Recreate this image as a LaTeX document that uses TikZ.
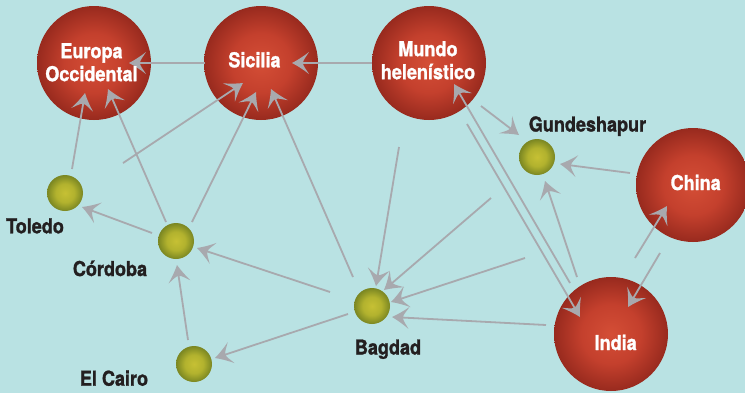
\documentclass[tikz,border=0pt]{standalone}
\usepackage{fontspec}
\newfontfamily\labfont[FakeStretch=0.88,FakeBold=1.3]{TeX Gyre Heros}
\usetikzlibrary{arrows.meta}
\definecolor{bgc}{RGB}{185,226,227}
\definecolor{arrc}{RGB}{168,169,174}
\definecolor{redin}{RGB}{212,78,54}
\definecolor{redmid}{RGB}{196,64,45}
\definecolor{redout}{RGB}{152,42,30}
\definecolor{olin}{RGB}{198,192,52}
\definecolor{olmid}{RGB}{178,178,46}
\definecolor{olout}{RGB}{122,134,34}
\definecolor{txtd}{RGB}{35,31,32}
\pgfdeclareradialshading{redball}{\pgfpoint{0bp}{0bp}}{color(0bp)=(redin); color(13bp)=(redmid); color(25bp)=(redout); color(50bp)=(redout)}
\pgfdeclareradialshading{oliveball}{\pgfpoint{0bp}{0bp}}{color(0bp)=(olin); color(13bp)=(olmid); color(25bp)=(olout); color(50bp)=(olout)}
\pgfdeclarearrow{
  name = Barb,
  parameters = {\the\pgfarrowlength,\the\pgfarrowwidth},
  setup code = {
    \pgfarrowssettipend{0pt}
    \pgfarrowssetlineend{-0.6\pgfarrowlength}
    \pgfarrowssetbackend{-\pgfarrowlength}
    \pgfarrowssavethe\pgfarrowlength
    \pgfarrowssavethe\pgfarrowwidth
  },
  drawing code = {
    \pgfpathmoveto{\pgfqpoint{0pt}{0pt}}
    \pgfpathcurveto{\pgfpoint{-0.33\pgfarrowlength}{0.13\pgfarrowwidth}}{\pgfpoint{-0.67\pgfarrowlength}{0.3\pgfarrowwidth}}{\pgfpoint{-\pgfarrowlength}{0.5\pgfarrowwidth}}
    \pgfpathcurveto{\pgfpoint{-0.85\pgfarrowlength}{0.3\pgfarrowwidth}}{\pgfpoint{-0.66\pgfarrowlength}{0.16\pgfarrowwidth}}{\pgfpoint{-0.64\pgfarrowlength}{0pt}}
    \pgfpathcurveto{\pgfpoint{-0.66\pgfarrowlength}{-0.16\pgfarrowwidth}}{\pgfpoint{-0.85\pgfarrowlength}{-0.3\pgfarrowwidth}}{\pgfpoint{-\pgfarrowlength}{-0.5\pgfarrowwidth}}
    \pgfpathcurveto{\pgfpoint{-0.67\pgfarrowlength}{-0.3\pgfarrowwidth}}{\pgfpoint{-0.33\pgfarrowlength}{-0.13\pgfarrowwidth}}{\pgfqpoint{0pt}{0pt}}
    \pgfpathclose
    \pgfusepathqfill
  },
  defaults = {length=17pt, width=22pt}
}
\tikzset{
  big/.style={circle, minimum size=114pt, inner sep=0pt, shade, shading=redball},
  small/.style={circle, minimum size=36pt, inner sep=0pt, shade, shading=oliveball},
  arr/.style={draw=arrc, line width=1.8pt, -{Barb}},
  wlab/.style={font=\labfont\bfseries\fontsize{20.5}{23}\selectfont, text=white, inner sep=0pt, align=center},
  dlab/.style={font=\labfont\bfseries\fontsize{20.5}{23}\selectfont, text=txtd, inner sep=0pt, align=center}
}
\begin{document}
\begin{tikzpicture}[x=1pt,y=-1pt]
\useasboundingbox (0,0) rectangle (745,392);
\fill[bgc] (-5,-5) rectangle (750,397);
% big circles
\node[big] (E) at (94,63) {};
\node[big] (S) at (261,63) {};
\node[big] (M) at (429,63) {};
\node[big] (C) at (693,185) {};
\node[big] (I) at (611,334) {};
% small circles
\node[small] (T) at (65,193) {};
\node[small] (Co) at (176,241) {};
\node[small] (Ca) at (194,364) {};
\node[small] (B) at (372,306) {};
\node[small] (G) at (537,157) {};
% free ends
\coordinate (f5) at (123,163);
\coordinate (f12) at (399,147);
\coordinate (f14) at (525,258);
% connectors
\draw[arr] ([shift={(-56,0)}]S.center) -- ([shift={(35,0)}]E.center);
\draw[arr] ([shift={(-57,0)}]M.center) -- ([shift={(31,0)}]S.center);
\draw[arr] ([shift={(7,-24)}]T.center) -- ([shift={(-9,30)}]E.center);
\draw[arr] ([shift={(-10,-19)}]Co.center) -- ([shift={(14,26)}]E.center);
\draw[arr] (f5) -- ([shift={(-18,20)}]S.center);
\draw[arr] ([shift={(16,-19)}]Co.center) -- ([shift={(-5,29)}]S.center);
\draw[arr] ([shift={(-19,-29)}]B.center) -- ([shift={(10,26)}]S.center);
\draw[arr] ([shift={(-24,-8)}]Co.center) -- ([shift={(17,14)}]T.center);
\draw[arr] ([shift={(-42,-14)}]B.center) -- ([shift={(21,7)}]Co.center);
\draw[arr] ([shift={(-6,-24)}]Ca.center) -- ([shift={(1,24)}]Co.center);
\draw[arr] ([shift={(-24,8)}]B.center) -- ([shift={(21,-6)}]Ca.center);
\draw[arr] (f12) -- ([shift={(4,-20)}]B.center);
\draw[arr] ([shift={(-46,41)}]G.center) -- ([shift={(12,-16)}]B.center);
\draw[arr] (f14) -- ([shift={(19,-4)}]B.center);
\draw[arr] ([shift={(-65,-9)}]I.center) -- ([shift={(20,11)}]B.center);
\draw[arr] ([shift={(-41,-51)}]I.center) -- ([shift={(25,21)}]M.center);
\draw[arr] ([shift={(38,61)}]M.center) -- ([shift={(-31,-17)}]I.center);
\draw[arr] ([shift={(52,43)}]M.center) -- ([shift={(-18,-22)}]G.center);
\draw[arr] ([shift={(-63,-12)}]C.center) -- ([shift={(23,7)}]G.center);
\draw[arr] ([shift={(-34,-57)}]I.center) -- ([shift={(8,24)}]G.center);
\draw[arr] ([shift={(24,-76)}]I.center) -- ([shift={(-26,21)}]C.center);
\draw[arr] ([shift={(-33,68)}]C.center) -- ([shift={(17,-27)}]I.center);
% labels
\node[wlab] (El) at (91.5,62.3) {Europa\\Occidental};
\node[wlab, anchor=base] (Sl) at (254.5,67.3) {Sicilia};
\node[wlab] (Ml) at (428,60.3) {Mundo\\helenístico};
\node[wlab, anchor=base] (Cl) at (695.7,190) {China};
\node[wlab, anchor=base] (Il) at (615.7,350) {India};
\node[dlab, anchor=base] (Tl) at (35,233.3) {Toledo};
\node[dlab, anchor=base] (Col) at (110,276) {Córdoba};
\node[dlab, anchor=base] (Cal) at (114,385.7) {El Cairo};
\node[dlab, anchor=base] (Bl) at (388,354.5) {Bagdad};
\node[dlab, anchor=base] (Gl) at (587.5,131.5) {Gundeshapur};
\end{tikzpicture}
\end{document}
